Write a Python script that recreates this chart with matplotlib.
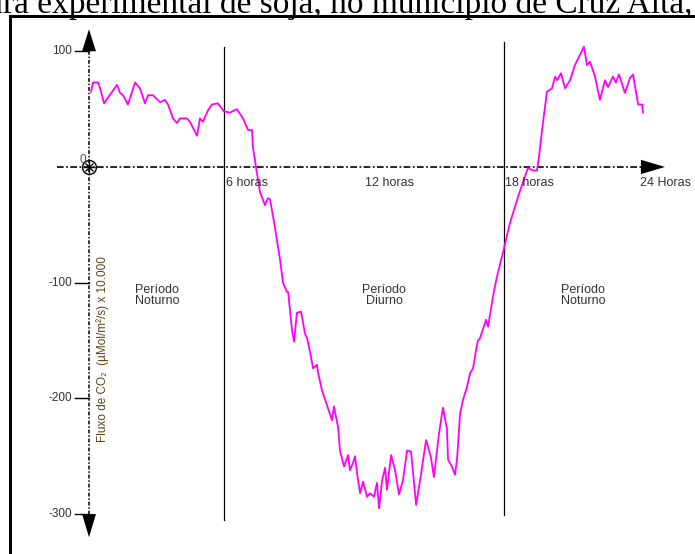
"""CO2 flux over 24 h in a soybean field (day/night periods), redrawn from a scanned figure."""

import matplotlib
matplotlib.use("Agg")
import matplotlib.pyplot as plt
from matplotlib.lines import Line2D
from matplotlib.patches import Polygon

# hours since start of record, CO2 flux (uMol/m2/s x 10000)
hours = [0.09, 0.17, 0.39, 0.48, 0.65, 0.82, 1.21, 1.34, 1.47, 1.68, 1.99, 2.20, 2.42,
         2.55, 2.76, 3.07, 3.28, 3.41, 3.63, 3.80, 3.93, 4.23, 4.36, 4.67, 4.79, 4.92,
         5.14, 5.31, 5.57, 5.83, 6.09, 6.39, 6.65, 6.87, 7.04, 7.08, 7.17, 7.21, 7.39,
         7.60, 7.73, 7.82, 8.03, 8.25, 8.38, 8.55, 8.60, 8.77, 8.86, 8.98, 9.16, 9.33,
         9.42, 9.55, 9.68, 9.85, 9.89, 10.06, 10.28, 10.50, 10.58, 10.76, 10.84, 11.02,
         11.19, 11.27, 11.40, 11.49, 11.58, 11.71, 11.84, 12.01, 12.14, 12.31, 12.44,
         12.53, 12.66, 12.79, 12.87, 13.05, 13.22, 13.39, 13.56, 13.74, 13.91, 14.13,
         14.30, 14.56, 14.77, 14.90, 15.12, 15.29, 15.46, 15.51, 15.68, 15.81, 15.90,
         16.03, 16.16, 16.33, 16.46, 16.59, 16.72, 16.80, 16.89, 17.15, 17.24, 17.45,
         17.62, 17.88, 18.19, 18.53, 18.75, 18.96, 19.18, 19.35, 19.44, 19.57, 19.78,
         20.00, 20.13, 20.22, 20.39, 20.56, 20.78, 20.99, 21.21, 21.38, 21.51, 21.64,
         21.86, 22.07, 22.29, 22.42, 22.63, 22.76, 22.89, 23.15, 23.37, 23.50, 23.72,
         23.89, 23.93]
flux = [65, 73, 73, 68, 55, 60, 71, 64, 62, 54, 73, 68, 55,
        62, 62, 56, 58, 54, 42, 38, 42, 42, 39, 27, 42, 39,
        49, 54, 55, 48, 47, 50, 42, 32, 32, 17, 6, 0, -22,
        -33, -27, -28, -52, -80, -100, -108, -108, -141, -151, -126, -125, -144,
        -148, -160, -174, -171, -177, -193, -206, -219, -207, -225, -245, -259,
        -249, -262, -256, -250, -265, -282, -272, -285, -282, -285, -273,
        -295, -271, -260, -279, -249, -262, -283, -271, -245, -246, -292,
        -271, -236, -251, -268, -230, -208, -226, -253, -259, -266, -252,
        -213, -201, -190, -178, -174, -158, -150, -148, -132, -138, -112,
        -95, -74, -48, -26, -13, -1, -3, -3, 9, 32, 65,
        68, 78, 75, 81, 68, 75, 88, 97, 104, 88, 91,
        78, 58, 75, 69, 78, 73, 80, 64, 77, 80, 54,
        54, 47]

yticks = [100, -100, -200, -300]
hour_labels = ["6 horas", "12 horas", "18 horas", "24 Horas"]
hour_label_pos = [5.9, 13.0, 17.95, 23.8]
period_labels = ["Período\nNoturno", "Período\nDiurno", "Período\nNoturno"]
period_pos = [2.0, 12.75, 21.35]
period_ha = ["left", "center", "center"]
boundaries = [5.83, 17.93]

SANS = ["Liberation Sans", "DejaVu Sans"]
TXT = "#333333"

fig = plt.figure(figsize=(6.95, 5.54), dpi=100)
ax = fig.add_axes([0, 0, 1, 1])
ax.set_xlim(-3.845, 26.177)
ax.set_ylim(-334.5, 144.3)
ax.axis("off")

# scanned caption, cut at the top and left as in the scan, and the page frame
fig.text(0.997, 0.976, "lavoura experimental de soja, no município de Cruz Alta,",
         ha="right", va="baseline", fontsize=24, family="Liberation Serif")
fig.add_artist(Line2D([0.0145, 0.0145], [0, 0.972], color="black", lw=2.2,
                      transform=fig.transFigure))
fig.add_artist(Line2D([0.0145, 1.0], [0.972, 0.972], color="black", lw=2.2,
                      transform=fig.transFigure))

# dash-dot axes with filled arrowheads
ax.plot([-1.38, 23.9], [0, 0], color="black", lw=1.2, dashes=(4, 1.5, 1, 1.5))
ax.add_patch(Polygon([[23.84, 6.2], [24.88, 0], [23.84, -6.2]], closed=True,
                     color="black", lw=0))
ax.plot([0, 0], [100, -300], color="black", lw=1.1, dashes=(2.5, 1.2, 1, 1.2))
ax.add_patch(Polygon([[-0.3, 100], [0, 119], [0.3, 100]], closed=True,
                     color="black", lw=0))
ax.add_patch(Polygon([[-0.3, -300], [0, -320], [0.3, -300]], closed=True,
                     color="black", lw=0))
for v in yticks:
    ax.plot([-0.6, 0], [v, v], color="black", lw=1.0)
    ax.text(-0.72, v, str(v), ha="right", va="center", fontsize=8.5,
            family=SANS, color=TXT)
ax.text(-0.12, 6, "0", ha="right", va="center", fontsize=8.5, family=SANS, color="#555555")
# origin symbol: open circle with a star inside
ax.plot([0], [0], marker="o", mfc="none", mec="black", ms=10, mew=1.0)
ax.plot([0], [0], marker="+", color="black", ms=9, mew=1.0)
ax.plot([0], [0], marker="x", color="black", ms=6, mew=1.0)

# day/night boundaries
ax.plot([boundaries[0]] * 2, [103.7, -305], color="black", lw=0.9)
ax.plot([boundaries[1]] * 2, [108, -301], color="black", lw=0.9)

for lab, x in zip(hour_labels, hour_label_pos):
    ha = "center" if lab.startswith("12") else "left"
    ax.text(x, -14, lab, ha=ha, va="center", fontsize=9, family=SANS, color=TXT)
for lab, x, ha in zip(period_labels, period_pos, period_ha):
    ax.text(x, -111, lab, ha=ha, va="center", fontsize=9, family=SANS, color=TXT,
            linespacing=0.95)

ax.text(0.6, -157, "Fluxo de CO₂  (µMol/m²/s) x 10.000", rotation=90, ha="center",
        va="center", fontsize=8.5, family=SANS, color="#5e4318")

ax.plot(hours, flux, color="#ff00ff", lw=1.3)

fig.savefig("out.png", dpi=100)
